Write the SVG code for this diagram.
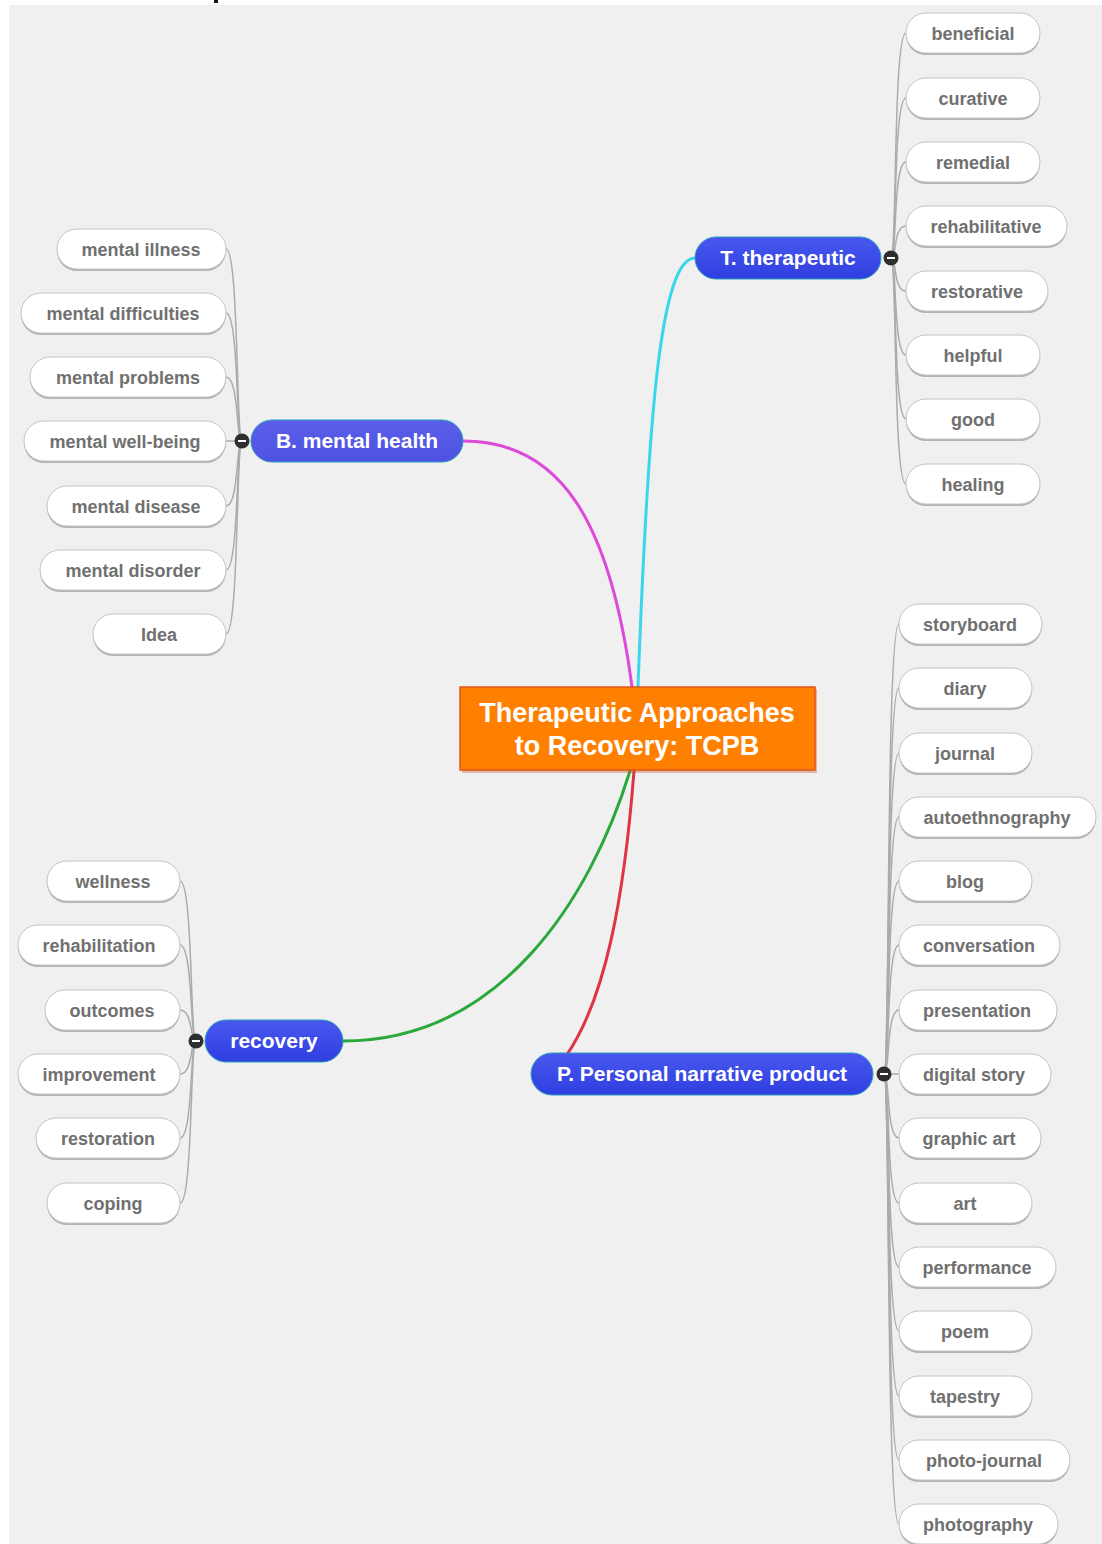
<svg xmlns="http://www.w3.org/2000/svg" width="1102" height="1544" viewBox="0 0 1102 1544">
<defs>
<linearGradient id="blueFill" x1="0" y1="0" x2="0" y2="1">
<stop offset="0" stop-color="#4858ee"/>
<stop offset="1" stop-color="#2f3ee0"/>
</linearGradient>
<linearGradient id="violetFill" x1="0" y1="0" x2="0" y2="1">
<stop offset="0" stop-color="#5a5ee8"/>
<stop offset="1" stop-color="#4d52e2"/>
</linearGradient>
<style>
.leaf-shadow{fill:#b3b3b3}
.leaf-box{fill:#ffffff;stroke:#c4c4c4;stroke-width:1}
.leaf-text{font-family:"Liberation Sans",Arial,sans-serif;font-weight:bold;font-size:18px;fill:#707070;text-anchor:middle}
.branch-box{fill:url(#blueFill);stroke:#2a9cbc;stroke-width:1}
.branch-text{font-family:"Liberation Sans",Arial,sans-serif;font-weight:bold;font-size:21px;fill:#ffffff;text-anchor:middle}
.root-text{font-family:"Liberation Sans",Arial,sans-serif;font-weight:bold;font-size:27px;fill:#ffffff;text-anchor:middle}
.twig{fill:none;stroke:#ababab;stroke-width:1.5}
.main{fill:none;stroke-width:3;stroke-linecap:round}
.toggle{fill:#2e2e2e}
.toggle-bar{stroke:#ffffff;stroke-width:2}
</style>
</defs>

<rect x="0" y="0" width="1102" height="1544" fill="#ffffff"/>
<rect x="9" y="5" width="1093" height="1539" fill="#f0f0f0"/>
<rect x="214" y="0" width="4" height="3" fill="#111111"/>

<!-- connectors -->
<g id="connectors">
<path class="main" stroke="#3ad6ec" d="M638 687 C648 420 660 258 695 258"/>
<path class="main" stroke="#dd4ad9" d="M632 687 C610 520 560 441 463 441"/>
<path class="main" stroke="#2aa83a" d="M630 771 C590 900 500 1041 343 1041"/>
<path class="main" stroke="#dd3344" d="M634 771 C624 900 605 1000 566 1056"/>

<!-- therapeutic twigs -->
<path class="twig" d="M891 258 C897 258 893 33 906 33"/>
<path class="twig" d="M891 258 C897 258 893 98 906 98"/>
<path class="twig" d="M891 258 C897 258 893 162 906 162"/>
<path class="twig" d="M891 258 C897 258 893 226 906 226"/>
<path class="twig" d="M891 258 C897 258 893 291 906 291"/>
<path class="twig" d="M891 258 C897 258 893 355 906 355"/>
<path class="twig" d="M891 258 C897 258 893 419 906 419"/>
<path class="twig" d="M891 258 C897 258 893 484 906 484"/>

<!-- mental health twigs -->
<path class="twig" d="M242 441 C236 441 239 249 226 249"/>
<path class="twig" d="M242 441 C236 441 239 313 226 313"/>
<path class="twig" d="M242 441 C236 441 239 377 226 377"/>
<path class="twig" d="M242 441 L226 441"/>
<path class="twig" d="M242 441 C236 441 239 506 226 506"/>
<path class="twig" d="M242 441 C236 441 239 570 226 570"/>
<path class="twig" d="M242 441 C236 441 239 634 226 634"/>

<!-- recovery twigs -->
<path class="twig" d="M196 1041 C190 1041 193 881 180 881"/>
<path class="twig" d="M196 1041 C190 1041 193 945 180 945"/>
<path class="twig" d="M196 1041 C190 1041 193 1010 180 1010"/>
<path class="twig" d="M196 1041 C190 1041 193 1074 180 1074"/>
<path class="twig" d="M196 1041 C190 1041 193 1138 180 1138"/>
<path class="twig" d="M196 1041 C190 1041 193 1203 180 1203"/>

<!-- narrative product twigs -->
<path class="twig" d="M884 1074 C890 1074 886 624 899 624"/>
<path class="twig" d="M884 1074 C890 1074 886 688 899 688"/>
<path class="twig" d="M884 1074 C890 1074 886 753 899 753"/>
<path class="twig" d="M884 1074 C890 1074 886 817 899 817"/>
<path class="twig" d="M884 1074 C890 1074 886 881 899 881"/>
<path class="twig" d="M884 1074 C890 1074 886 945 899 945"/>
<path class="twig" d="M884 1074 C890 1074 886 1010 899 1010"/>
<path class="twig" d="M884 1074 L899 1074"/>
<path class="twig" d="M884 1074 C890 1074 886 1138 899 1138"/>
<path class="twig" d="M884 1074 C890 1074 886 1203 899 1203"/>
<path class="twig" d="M884 1074 C890 1074 886 1267 899 1267"/>
<path class="twig" d="M884 1074 C890 1074 886 1331 899 1331"/>
<path class="twig" d="M884 1074 C890 1074 886 1396 899 1396"/>
<path class="twig" d="M884 1074 C890 1074 886 1460 899 1460"/>
<path class="twig" d="M884 1074 C890 1074 886 1524 899 1524"/>
</g>

<!-- root -->
<g id="root">
<rect x="462" y="689" width="355" height="84" fill="#c84a10" opacity="0.35"/>
<rect x="460" y="687" width="355" height="83" fill="#ff7f00" stroke="#e0561a" stroke-width="1.5"/>
<text class="root-text" x="637" y="722">Therapeutic Approaches</text>
<text class="root-text" x="637" y="755">to Recovery: TCPB</text>
</g>

<!-- branches -->
<g id="branch-therapeutic">
<rect class="branch-box" x="695" y="237" width="186" height="42" rx="21"/>
<text class="branch-text" x="788" y="265">T. therapeutic</text>
<circle class="toggle" cx="891" cy="258" r="7.5"/><line class="toggle-bar" x1="887" y1="258" x2="895" y2="258"/>
</g>
<g id="branch-mental-health">
<rect class="branch-box" style="fill:url(#violetFill)" x="251" y="420" width="212" height="42" rx="21"/>
<text class="branch-text" x="357" y="448">B. mental health</text>
<circle class="toggle" cx="242" cy="441" r="7.5"/><line class="toggle-bar" x1="238" y1="441" x2="246" y2="441"/>
</g>
<g id="branch-recovery">
<rect class="branch-box" x="205" y="1020" width="138" height="42" rx="21"/>
<text class="branch-text" x="274" y="1048">recovery</text>
<circle class="toggle" cx="196" cy="1041" r="7.5"/><line class="toggle-bar" x1="192" y1="1041" x2="200" y2="1041"/>
</g>
<g id="branch-narrative">
<rect class="branch-box" x="531" y="1053" width="342" height="42" rx="21"/>
<text class="branch-text" x="702" y="1081">P. Personal narrative product</text>
<circle class="toggle" cx="884" cy="1074" r="7.5"/><line class="toggle-bar" x1="880" y1="1074" x2="888" y2="1074"/>
</g>

<!-- therapeutic leaves -->
<g id="leaf-beneficial"><rect class="leaf-shadow" x="906" y="15" width="134" height="40" rx="20"/><rect class="leaf-box" x="906" y="13" width="134" height="40" rx="20"/><text class="leaf-text" x="973" y="40">beneficial</text></g>
<g id="leaf-curative"><rect class="leaf-shadow" x="906" y="80" width="134" height="40" rx="20"/><rect class="leaf-box" x="906" y="78" width="134" height="40" rx="20"/><text class="leaf-text" x="973" y="105">curative</text></g>
<g id="leaf-remedial"><rect class="leaf-shadow" x="906" y="144" width="134" height="40" rx="20"/><rect class="leaf-box" x="906" y="142" width="134" height="40" rx="20"/><text class="leaf-text" x="973" y="169">remedial</text></g>
<g id="leaf-rehabilitative"><rect class="leaf-shadow" x="906" y="208" width="161" height="40" rx="20"/><rect class="leaf-box" x="906" y="206" width="161" height="40" rx="20"/><text class="leaf-text" x="986" y="233">rehabilitative</text></g>
<g id="leaf-restorative"><rect class="leaf-shadow" x="906" y="273" width="142" height="40" rx="20"/><rect class="leaf-box" x="906" y="271" width="142" height="40" rx="20"/><text class="leaf-text" x="977" y="298">restorative</text></g>
<g id="leaf-helpful"><rect class="leaf-shadow" x="906" y="337" width="134" height="40" rx="20"/><rect class="leaf-box" x="906" y="335" width="134" height="40" rx="20"/><text class="leaf-text" x="973" y="362">helpful</text></g>
<g id="leaf-good"><rect class="leaf-shadow" x="906" y="401" width="134" height="40" rx="20"/><rect class="leaf-box" x="906" y="399" width="134" height="40" rx="20"/><text class="leaf-text" x="973" y="426">good</text></g>
<g id="leaf-healing"><rect class="leaf-shadow" x="906" y="466" width="134" height="40" rx="20"/><rect class="leaf-box" x="906" y="464" width="134" height="40" rx="20"/><text class="leaf-text" x="973" y="491">healing</text></g>

<!-- mental health leaves -->
<g id="leaf-mental-illness"><rect class="leaf-shadow" x="57" y="231" width="169" height="40" rx="20"/><rect class="leaf-box" x="57" y="229" width="169" height="40" rx="20"/><text class="leaf-text" x="141" y="256">mental illness</text></g>
<g id="leaf-mental-difficulties"><rect class="leaf-shadow" x="21" y="295" width="205" height="40" rx="20"/><rect class="leaf-box" x="21" y="293" width="205" height="40" rx="20"/><text class="leaf-text" x="123" y="320">mental difficulties</text></g>
<g id="leaf-mental-problems"><rect class="leaf-shadow" x="30" y="359" width="196" height="40" rx="20"/><rect class="leaf-box" x="30" y="357" width="196" height="40" rx="20"/><text class="leaf-text" x="128" y="384">mental problems</text></g>
<g id="leaf-mental-well-being"><rect class="leaf-shadow" x="24" y="423" width="202" height="40" rx="20"/><rect class="leaf-box" x="24" y="421" width="202" height="40" rx="20"/><text class="leaf-text" x="125" y="448">mental well-being</text></g>
<g id="leaf-mental-disease"><rect class="leaf-shadow" x="47" y="488" width="179" height="40" rx="20"/><rect class="leaf-box" x="47" y="486" width="179" height="40" rx="20"/><text class="leaf-text" x="136" y="513">mental disease</text></g>
<g id="leaf-mental-disorder"><rect class="leaf-shadow" x="40" y="552" width="186" height="40" rx="20"/><rect class="leaf-box" x="40" y="550" width="186" height="40" rx="20"/><text class="leaf-text" x="133" y="577">mental disorder</text></g>
<g id="leaf-idea"><rect class="leaf-shadow" x="93" y="616" width="133" height="40" rx="20"/><rect class="leaf-box" x="93" y="614" width="133" height="40" rx="20"/><text class="leaf-text" x="159" y="641">Idea</text></g>

<!-- recovery leaves -->
<g id="leaf-wellness"><rect class="leaf-shadow" x="47" y="863" width="133" height="40" rx="20"/><rect class="leaf-box" x="47" y="861" width="133" height="40" rx="20"/><text class="leaf-text" x="113" y="888">wellness</text></g>
<g id="leaf-rehabilitation"><rect class="leaf-shadow" x="18" y="927" width="162" height="40" rx="20"/><rect class="leaf-box" x="18" y="925" width="162" height="40" rx="20"/><text class="leaf-text" x="99" y="952">rehabilitation</text></g>
<g id="leaf-outcomes"><rect class="leaf-shadow" x="45" y="992" width="135" height="40" rx="20"/><rect class="leaf-box" x="45" y="990" width="135" height="40" rx="20"/><text class="leaf-text" x="112" y="1017">outcomes</text></g>
<g id="leaf-improvement"><rect class="leaf-shadow" x="18" y="1056" width="162" height="40" rx="20"/><rect class="leaf-box" x="18" y="1054" width="162" height="40" rx="20"/><text class="leaf-text" x="99" y="1081">improvement</text></g>
<g id="leaf-restoration"><rect class="leaf-shadow" x="36" y="1120" width="144" height="40" rx="20"/><rect class="leaf-box" x="36" y="1118" width="144" height="40" rx="20"/><text class="leaf-text" x="108" y="1145">restoration</text></g>
<g id="leaf-coping"><rect class="leaf-shadow" x="47" y="1185" width="133" height="40" rx="20"/><rect class="leaf-box" x="47" y="1183" width="133" height="40" rx="20"/><text class="leaf-text" x="113" y="1210">coping</text></g>

<!-- narrative product leaves -->
<g id="leaf-storyboard"><rect class="leaf-shadow" x="899" y="606" width="143" height="40" rx="20"/><rect class="leaf-box" x="899" y="604" width="143" height="40" rx="20"/><text class="leaf-text" x="970" y="631">storyboard</text></g>
<g id="leaf-diary"><rect class="leaf-shadow" x="899" y="670" width="133" height="40" rx="20"/><rect class="leaf-box" x="899" y="668" width="133" height="40" rx="20"/><text class="leaf-text" x="965" y="695">diary</text></g>
<g id="leaf-journal"><rect class="leaf-shadow" x="899" y="735" width="133" height="40" rx="20"/><rect class="leaf-box" x="899" y="733" width="133" height="40" rx="20"/><text class="leaf-text" x="965" y="760">journal</text></g>
<g id="leaf-autoethnography"><rect class="leaf-shadow" x="899" y="799" width="197" height="40" rx="20"/><rect class="leaf-box" x="899" y="797" width="197" height="40" rx="20"/><text class="leaf-text" x="997" y="824">autoethnography</text></g>
<g id="leaf-blog"><rect class="leaf-shadow" x="899" y="863" width="133" height="40" rx="20"/><rect class="leaf-box" x="899" y="861" width="133" height="40" rx="20"/><text class="leaf-text" x="965" y="888">blog</text></g>
<g id="leaf-conversation"><rect class="leaf-shadow" x="899" y="927" width="161" height="40" rx="20"/><rect class="leaf-box" x="899" y="925" width="161" height="40" rx="20"/><text class="leaf-text" x="979" y="952">conversation</text></g>
<g id="leaf-presentation"><rect class="leaf-shadow" x="899" y="992" width="158" height="40" rx="20"/><rect class="leaf-box" x="899" y="990" width="158" height="40" rx="20"/><text class="leaf-text" x="977" y="1017">presentation</text></g>
<g id="leaf-digital-story"><rect class="leaf-shadow" x="899" y="1056" width="152" height="40" rx="20"/><rect class="leaf-box" x="899" y="1054" width="152" height="40" rx="20"/><text class="leaf-text" x="974" y="1081">digital story</text></g>
<g id="leaf-graphic-art"><rect class="leaf-shadow" x="899" y="1120" width="142" height="40" rx="20"/><rect class="leaf-box" x="899" y="1118" width="142" height="40" rx="20"/><text class="leaf-text" x="969" y="1145">graphic art</text></g>
<g id="leaf-art"><rect class="leaf-shadow" x="899" y="1185" width="133" height="40" rx="20"/><rect class="leaf-box" x="899" y="1183" width="133" height="40" rx="20"/><text class="leaf-text" x="965" y="1210">art</text></g>
<g id="leaf-performance"><rect class="leaf-shadow" x="899" y="1249" width="157" height="40" rx="20"/><rect class="leaf-box" x="899" y="1247" width="157" height="40" rx="20"/><text class="leaf-text" x="977" y="1274">performance</text></g>
<g id="leaf-poem"><rect class="leaf-shadow" x="899" y="1313" width="133" height="40" rx="20"/><rect class="leaf-box" x="899" y="1311" width="133" height="40" rx="20"/><text class="leaf-text" x="965" y="1338">poem</text></g>
<g id="leaf-tapestry"><rect class="leaf-shadow" x="899" y="1378" width="133" height="40" rx="20"/><rect class="leaf-box" x="899" y="1376" width="133" height="40" rx="20"/><text class="leaf-text" x="965" y="1403">tapestry</text></g>
<g id="leaf-photo-journal"><rect class="leaf-shadow" x="899" y="1442" width="171" height="40" rx="20"/><rect class="leaf-box" x="899" y="1440" width="171" height="40" rx="20"/><text class="leaf-text" x="984" y="1467">photo-journal</text></g>
<g id="leaf-photography"><rect class="leaf-shadow" x="899" y="1506" width="159" height="40" rx="20"/><rect class="leaf-box" x="899" y="1504" width="159" height="40" rx="20"/><text class="leaf-text" x="978" y="1531">photography</text></g>
</svg>
